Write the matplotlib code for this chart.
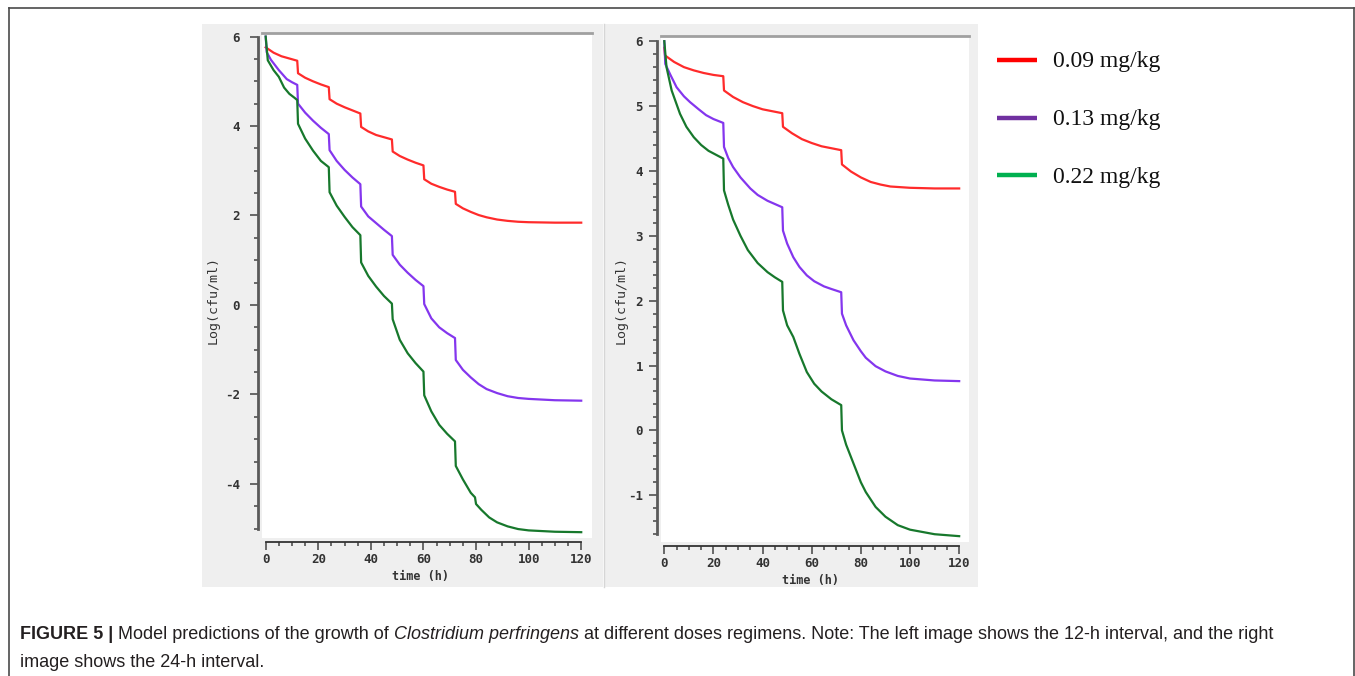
import matplotlib
matplotlib.use("Agg")
import matplotlib.pyplot as plt
from matplotlib.lines import Line2D
from matplotlib.patches import Rectangle
from matplotlib.ticker import MultipleLocator

plt.rcParams["axes.unicode_minus"] = False

# ---- data ----
doses = ["0.09 mg/kg", "0.13 mg/kg", "0.22 mg/kg"]

# left: 12-h interval
t12_red = [0, 3, 6, 9, 12, 12.3, 15, 18, 21, 24, 24.3, 27, 30, 33, 36, 36.3, 39, 42, 45, 48,
           48.3, 51, 54, 57, 60, 60.3, 63, 66, 69, 72, 72.3, 75, 78, 81, 84, 88, 92, 96, 100, 110, 120]
v12_red = [5.76, 5.64, 5.56, 5.51, 5.46, 5.18, 5.08, 5.00, 4.93, 4.87, 4.60, 4.50, 4.42, 4.35, 4.28,
           3.98, 3.88, 3.80, 3.75, 3.70, 3.43, 3.33, 3.25, 3.18, 3.12, 2.81, 2.71, 2.64, 2.58, 2.53,
           2.26, 2.16, 2.08, 2.01, 1.96, 1.91, 1.88, 1.86, 1.85, 1.84, 1.84]

t12_pur = [0, 0.4, 2, 5, 8, 10, 12, 12.3, 15, 18, 21, 24, 24.3, 27, 30, 33, 36, 36.3, 39, 42, 45, 48,
           48.3, 51, 54, 57, 60, 60.3, 63, 66, 69, 72, 72.3, 75, 78, 81, 84, 88, 92, 96, 100, 110, 120]
v12_pur = [6.0, 5.65, 5.48, 5.25, 5.05, 4.98, 4.92, 4.50, 4.30, 4.12, 3.96, 3.82, 3.46, 3.22, 3.02,
           2.85, 2.70, 2.20, 1.98, 1.83, 1.68, 1.54, 1.12, 0.90, 0.72, 0.56, 0.42, 0.02, -0.30,
           -0.50, -0.63, -0.74, -1.23, -1.45, -1.62, -1.77, -1.88, -1.97, -2.04, -2.08, -2.10,
           -2.13, -2.14]

t12_grn = [0, 0.8, 3, 5, 7, 9, 11, 12, 12.3, 15, 18, 21, 24, 24.3, 27, 30, 33, 36, 36.3, 39, 42, 45,
           48, 48.3, 51, 54, 57, 60, 60.3, 63, 66, 69, 72, 72.3, 75, 78, 79.6, 80, 82, 85, 88, 92,
           96, 100, 110, 120]
v12_grn = [6.0, 5.47, 5.25, 5.10, 4.86, 4.72, 4.63, 4.58, 4.05, 3.72, 3.45, 3.22, 3.08, 2.52, 2.22,
           1.97, 1.74, 1.56, 0.95, 0.65, 0.41, 0.20, 0.03, -0.32, -0.78, -1.08, -1.30, -1.49,
           -2.02, -2.38, -2.68, -2.88, -3.05, -3.60, -3.90, -4.20, -4.30, -4.45, -4.58, -4.75,
           -4.86, -4.95, -5.01, -5.04, -5.07, -5.08]

# right: 24-h interval
t24_red = [0, 0.3, 4, 8, 12, 16, 20, 24, 24.3, 28, 32, 36, 40, 44, 48, 48.3, 52, 56, 60, 64, 68, 72,
           72.3, 76, 80, 84, 88, 92, 96, 100, 110, 120]
v24_red = [5.90, 5.78, 5.68, 5.60, 5.55, 5.51, 5.48, 5.46, 5.24, 5.14, 5.06, 5.00, 4.95, 4.92, 4.89,
           4.68, 4.58, 4.49, 4.43, 4.38, 4.35, 4.32, 4.10, 3.99, 3.90, 3.83, 3.79, 3.76, 3.75,
           3.74, 3.73, 3.73]

t24_pur = [0, 0.4, 2.5, 5, 8, 10.5, 14, 17, 20, 24, 24.3, 26, 28, 31, 35, 38, 42, 45, 48, 48.3, 50,
           52.5, 55, 58, 61, 65, 68, 72, 72.3, 74, 77, 80, 82, 86, 90, 95, 100, 110, 120]
v24_pur = [6.0, 5.65, 5.48, 5.29, 5.15, 5.06, 4.95, 4.86, 4.80, 4.74, 4.37, 4.20, 4.06, 3.90, 3.73,
           3.63, 3.54, 3.49, 3.44, 3.08, 2.88, 2.67, 2.52, 2.39, 2.30, 2.22, 2.18, 2.13, 1.80,
           1.62, 1.39, 1.22, 1.12, 0.99, 0.91, 0.84, 0.80, 0.77, 0.76]

t24_grn = [0, 0.9, 3, 6.4, 9, 12, 15, 18, 21, 24, 24.3, 26, 28, 31, 34, 38, 42, 45, 48, 48.3, 50,
           52.5, 55, 58, 61, 64, 68, 72, 72.3, 74, 77, 80, 82, 86, 90, 95, 100, 110, 120]
v24_grn = [6.0, 5.60, 5.24, 4.88, 4.68, 4.52, 4.40, 4.31, 4.25, 4.19, 3.70, 3.48, 3.25, 3.00, 2.78,
           2.58, 2.44, 2.36, 2.29, 1.85, 1.62, 1.44, 1.18, 0.90, 0.72, 0.60, 0.48, 0.39, 0.00,
           -0.22, -0.51, -0.80, -0.95, -1.18, -1.33, -1.46, -1.53, -1.60, -1.63]

line_colors = ["#ff2b2b", "#8436ee", "#17782c"]
legend_colors = ["#ff0000", "#7030a0", "#00b050"]

W, H = 1355, 676
fig = plt.figure(figsize=(W / 100, H / 100), dpi=100)


def fx(px):
    return px / W


def fy(py):
    return 1 - py / H


# outer frame (open at the bottom)
for xs, ys in [([9, 9], [8, H]), ([9, 1354], [8, 8]), ([1354, 1354], [8, H])]:
    fig.add_artist(Line2D([fx(x) for x in xs], [fy(y) for y in ys], transform=fig.transFigure,
                          color="#4a4a4a", lw=1.2))

# grey screenshot panels, kept behind the axes
for x0, x1 in [(202, 603), (604, 978)]:
    fig.add_artist(Rectangle((fx(x0), fy(587)), fx(x1) - fx(x0), fy(24) - fy(587),
                             transform=fig.transFigure, facecolor="#efefef", edgecolor="none",
                             zorder=-10))
fig.add_artist(Line2D([fx(603.5), fx(603.5)], [fy(24), fy(587)], transform=fig.transFigure,
                      color="#d6d6d6", lw=1, zorder=-9))

mono = "DejaVu Sans Mono"


def panel(rect, xlim, ylim, ybounds, ymajor, yminor, ypad, series):
    ax = fig.add_axes(rect)
    ax.set_facecolor("white")
    for t, v, c in series:
        ax.plot(t, v, color=c, lw=1.6)
    ax.set_xlim(*xlim)
    ax.set_ylim(*ylim)
    ax.spines["right"].set_visible(False)
    ax.spines["top"].set_color("#a0a0a0")
    ax.spines["top"].set_linewidth(2)
    ax.spines["left"].set_position(("outward", 3))
    ax.spines["left"].set_bounds(*ybounds)
    ax.spines["left"].set_color("#5a5a5a")
    ax.spines["left"].set_linewidth(2)
    ax.spines["bottom"].set_position(("outward", 3))
    ax.spines["bottom"].set_bounds(0, 120)
    ax.spines["bottom"].set_color("#333333")
    ax.spines["bottom"].set_linewidth(1.3)
    ax.xaxis.set_major_locator(MultipleLocator(20))
    ax.xaxis.set_minor_locator(MultipleLocator(5))
    ax.yaxis.set_major_locator(MultipleLocator(ymajor))
    ax.yaxis.set_minor_locator(MultipleLocator(yminor))
    ax.tick_params(which="major", length=6, width=1.1, color="#444444", labelcolor="#333333",
                   labelsize=9)
    ax.tick_params(which="minor", length=3, width=1.1, color="#444444")
    ax.tick_params(axis="y", pad=ypad)
    ax.tick_params(axis="x", pad=2)
    for lab in ax.get_xticklabels() + ax.get_yticklabels():
        lab.set_fontfamily(mono)
        lab.set_fontweight("bold")
    ax.set_xlabel("time (h)", fontfamily=mono, fontweight="bold", fontsize=8.5, color="#333333")
    ax.set_ylabel("Log(cfu/ml)", fontfamily=mono, fontsize=9.5, color="#333333")
    return ax


axL = panel([fx(262), fy(538), fx(592) - fx(262), fy(33) - fy(538)],
            (-1.4, 124.1), (-5.21, 6.08), (-5, 6), 2, 0.5, 7,
            [(t12_red, v12_red, line_colors[0]), (t12_pur, v12_pur, line_colors[1]),
             (t12_grn, v12_grn, line_colors[2])])
axL.yaxis.set_label_coords(-0.128, 0.471)
axL.xaxis.set_label_coords(0.48, -0.064)

axR = panel([fx(661), fy(542), fx(969) - fx(661), fy(36) - fy(542)],
            (-1.34, 124.0), (-1.72, 6.08), (-1.6, 6), 1, 0.2, 4,
            [(t24_red, v24_red, line_colors[0]), (t24_pur, v24_pur, line_colors[1]),
             (t24_grn, v24_grn, line_colors[2])])
axR.yaxis.set_label_coords(-0.108, 0.478)
axR.xaxis.set_label_coords(0.487, -0.064)

# legend
for i, (lab, col) in enumerate(zip(doses, legend_colors)):
    y = [59.5, 117.5, 174.5][i]
    fig.add_artist(Line2D([fx(997), fx(1037)], [fy(y), fy(y)], transform=fig.transFigure,
                          color=col, lw=3.2, solid_capstyle="butt"))
    fig.text(fx(1053), fy(y + 8), lab, fontfamily="Liberation Serif", fontsize=17,
             va="baseline", ha="left", color="#111111")

# caption
renderer = fig.canvas.get_renderer()
cap_font = "Liberation Sans"
cap_size = 13


def caption_line(parts, x0, base):
    x = x0
    for s, style, weight in parts:
        t = fig.text(fx(x), fy(base), s, fontfamily=cap_font, fontsize=cap_size, style=style,
                     fontweight=weight, va="baseline", ha="left", color="#231f20")
        x += t.get_window_extent(renderer=renderer).width


caption_line([("FIGURE 5 | ", "normal", "bold"),
              ("Model predictions of the growth of ", "normal", "normal"),
              ("Clostridium perfringens", "italic", "normal"),
              (" at different doses regimens. Note: The left image shows the 12-h interval, and the right",
               "normal", "normal")], 20, 639)
caption_line([("image shows the 24-h interval.", "normal", "normal")], 20, 667)

fig.savefig("out.png", dpi=100)
